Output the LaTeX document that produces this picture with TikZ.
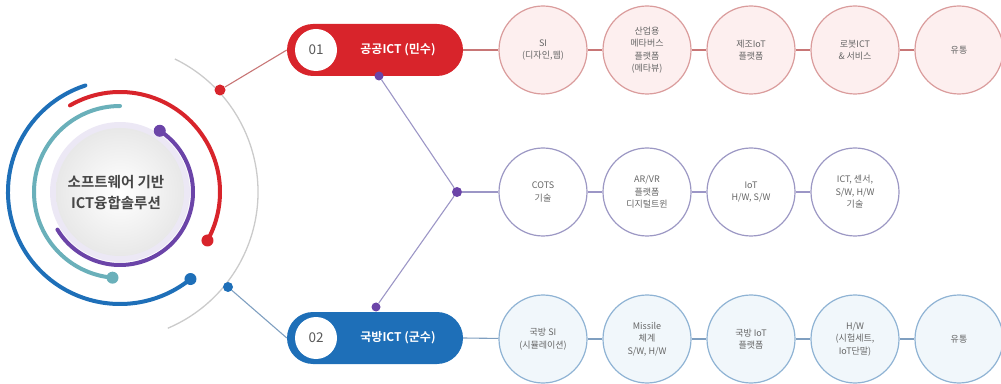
\documentclass[tikz,border=0pt]{standalone}
\usepackage{fontspec}
\usetikzlibrary{calc}
\setmainfont{Noto Sans CJK KR}
\newfontfamily\krbold{Noto Sans CJK KR Bold}
\definecolor{cred}{HTML}{D8242B}
\definecolor{cblue}{HTML}{1E6FB8}
\definecolor{cpurple}{HTML}{6B44A8}
\definecolor{cteal}{HTML}{6AB0BA}
\definecolor{cgreyarc}{HTML}{CBCBCB}
\definecolor{topfill}{HTML}{FDEFEF}
\definecolor{topline}{HTML}{DA9C9C}
\definecolor{topconn}{HTML}{C87676}
\definecolor{midline}{HTML}{9C98C4}
\definecolor{midconn}{HTML}{9C96C6}
\definecolor{botfill}{HTML}{F1F7FB}
\definecolor{botline}{HTML}{8FB3D4}
\definecolor{botconn}{HTML}{7F9FC0}
\definecolor{ctext}{HTML}{666666}
\definecolor{lav}{HTML}{ECE8F5}
\tikzset{
  item/.style={circle, minimum size=88pt, inner sep=0pt, line width=1.2pt, align=center,
    text=ctext, font=\fontsize{9}{12.5}\selectfont},
  topitem/.style={item, draw=topline, fill=topfill},
  miditem/.style={item, draw=midline, fill=white},
  botitem/.style={item, draw=botline, fill=botfill},
  pill/.style={rounded corners=26pt, minimum width=176pt, minimum height=52pt, inner sep=0pt},
  numcirc/.style={circle, fill=white, minimum size=42pt, inner sep=0pt, text=black!65, font=\fontsize{13.5}{13.5}\selectfont},
  pilltext/.style={text=white, font=\krbold\fontsize{12}{12}\selectfont, inner sep=0pt},
  dotnode/.style={circle, inner sep=0pt, minimum size=#1},
  dotnode/.default=10pt,
  conn/.style={line width=1.1pt}
}
\begin{document}
\begin{tikzpicture}[x=1pt,y=1pt]
\useasboundingbox (0,0) rectangle (1001,383);
% center disc
\fill[lav] (120,191) circle (70);
\shade[inner color=white, outer color=gray!18] (120,191) circle (64);
\node[align=center, text=black!72, font=\krbold\fontsize{14.5}{21}\selectfont] (ctitle) at (116,190) {소프트웨어 기반\\ICT융합솔루션};
% colored arcs
\draw[cblue, line width=4pt, line cap=round] (120,191) ++(108:112) arc[start angle=108, end angle=309, radius=112];
\node[dotnode=12pt, fill=cblue] (bluearcdot) at ($(120,191)+(309:112)$) {};
\draw[cred, line width=4pt, line cap=round] (120,191) ++(120:100) arc[start angle=120, end angle=-29, radius=100];
\node[dotnode=12pt, fill=cred] (redarcdot) at ($(120,191)+(-29:100)$) {};
\draw[cteal, line width=4pt, line cap=round] (120,191) ++(90:86) arc[start angle=90, end angle=265, radius=86];
\node[dotnode=12pt, fill=cteal] (tealarcdot) at ($(120,191)+(265:86)$) {};
\draw[cpurple, line width=4pt, line cap=round] (120,191) ++(57:73) arc[start angle=57, end angle=-149, radius=73];
\node[dotnode=12pt, fill=cpurple] (purparcdot) at ($(120,191)+(57:73)$) {};
% grey arc
\draw[cgreyarc, line width=1.3pt] (110,191) ++(64:148) arc[start angle=64, end angle=-67, radius=148];
% dots on grey arc
\node[dotnode=11pt, fill=cred] (rdot) at (220,293) {};
\node[dotnode=10pt, fill=cblue] (bdot) at (228,96) {};
% pills
\node[pill, fill=cred] (p1) at (375,333) {};
\node[pill, fill=cblue] (p2) at (375,45) {};
\node[numcirc] (n1) at (316,333) {01};
\node[numcirc] (n2) at (316,45) {02};
\node[pilltext] (t1) at (398,333) {공공ICT (민수)};
\node[pilltext] (t2) at (398,45) {국방ICT (군수)};
% junction
\node[dotnode=10pt, fill=cpurple] (j) at (457,191) {};
\node[dotnode=9pt, fill=cpurple] (jt) at (379,307) {};
\node[dotnode=9pt, fill=cpurple] (jb) at (376,76) {};
% rows
\node[topitem] (a1) at (543,333) {SI\\(디자인,웹)};
\node[topitem] (a2) at (647,333) {산업용\\메타버스\\플랫폼\\(메타뷰)};
\node[topitem] (a3) at (751,333) {제조IoT\\플랫폼};
\node[topitem] (a4) at (855,333) {로봇ICT\\\& 서비스};
\node[topitem] (a5) at (959,333) {유통};
\node[miditem] (b1) at (543,191) {COTS\\기술};
\node[miditem] (b2) at (647,191) {AR/VR\\플랫폼\\디지털트윈};
\node[miditem] (b3) at (751,191) {IoT\\H/W, S/W};
\node[miditem] (b4) at (855,191) {ICT, 센서,\\S/W, H/W\\기술};
\node[botitem] (c1) at (543,44) {국방 SI\\(시뮬레이션)};
\node[botitem] (c2) at (647,44) {Missile\\체계\\S/W, H/W};
\node[botitem] (c3) at (751,44) {국방 IoT\\플랫폼};
\node[botitem] (c4) at (855,44) {H/W\\(시험세트,\\IoT단말)};
\node[botitem] (c5) at (959,44) {유통};
% connectors
\draw[conn, topconn] (rdot) -- (p1.west);
\draw[conn, botconn] (bdot) -- (p2.west);
\draw[conn, topconn] (p1.east) -- (a1);
\draw[conn, topconn] (a1) -- (a2);
\draw[conn, topconn] (a2) -- (a3);
\draw[conn, topconn] (a3) -- (a4);
\draw[conn, topconn] (a4) -- (a5);
\draw[conn, midconn] (jt) -- (j);
\draw[conn, midconn] (jb) -- (j);
\draw[conn, midconn] (j) -- (b1);
\draw[conn, midconn] (b1) -- (b2);
\draw[conn, midconn] (b2) -- (b3);
\draw[conn, midconn] (b3) -- (b4);
\draw[conn, botconn] (p2.east) -- (c1);
\draw[conn, botconn] (c1) -- (c2);
\draw[conn, botconn] (c2) -- (c3);
\draw[conn, botconn] (c3) -- (c4);
\draw[conn, botconn] (c4) -- (c5);
\end{tikzpicture}
\end{document}
